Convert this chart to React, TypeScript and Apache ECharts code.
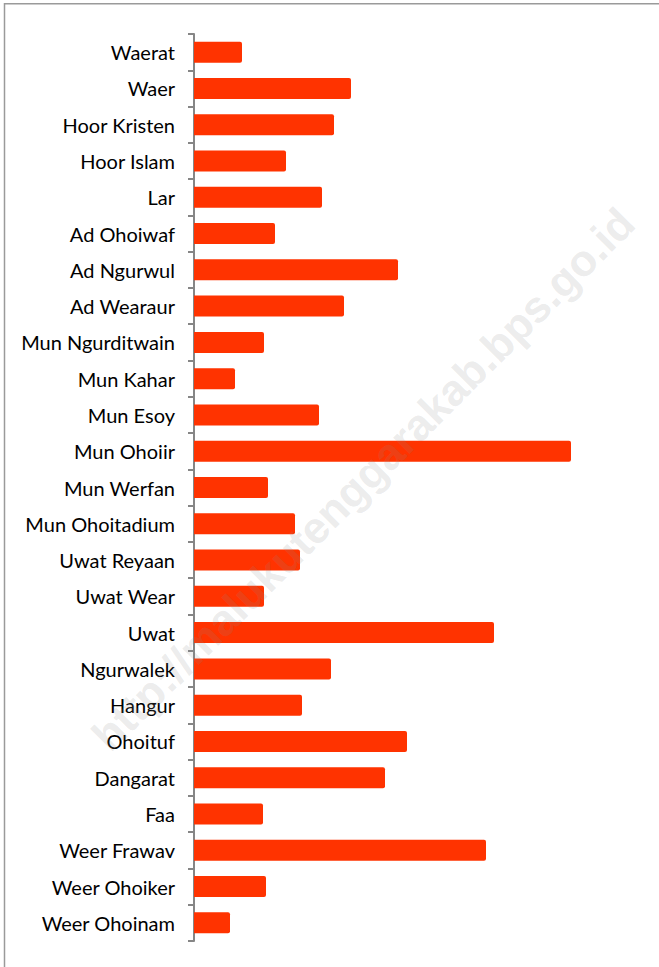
import React, { useEffect, useRef } from "react";
import * as echarts from "echarts";

const categories = [
  "Waerat", "Waer", "Hoor Kristen", "Hoor Islam", "Lar", "Ad Ohoiwaf", "Ad Ngurwul",
  "Ad Wearaur", "Mun Ngurditwain", "Mun Kahar", "Mun Esoy", "Mun Ohoiir", "Mun Werfan",
  "Mun Ohoitadium", "Uwat Reyaan", "Uwat Wear", "Uwat", "Ngurwalek", "Hangur", "Ohoituf",
  "Dangarat", "Faa", "Weer Frawav", "Weer Ohoiker", "Weer Ohoinam",
];

const values = [
  48, 157, 140, 92, 128, 81, 204, 150, 70, 41, 125, 377, 74, 101, 106, 70, 300, 137, 108,
  213, 191, 69, 292, 72, 36,
];

const watermark = "http://malukutenggarakab.bps.go.id";

export default function App() {
  const ref = useRef<HTMLDivElement>(null);
  useEffect(() => {
    if (!ref.current) return;
    const chart = echarts.init(ref.current, null, { renderer: "svg" });
    chart.setOption({
      animation: false,
      backgroundColor: "#ffffff",
      grid: { left: 194, top: 34, width: 446, height: 907, containLabel: false },
      xAxis: {
        type: "value",
        min: 0,
        max: 446,
        show: false,
      },
      yAxis: {
        type: "category",
        data: categories,
        inverse: true,
        axisLine: { show: true, lineStyle: { color: "#868686", width: 2 } },
        axisTick: { show: true, length: 6, lineStyle: { color: "#868686", width: 2 } },
        axisLabel: {
          margin: 19,
          color: "#000000",
          fontFamily: "Lato",
          fontSize: 20,
        },
        splitLine: { show: false },
      },
      series: [
        {
          type: "bar",
          data: values,
          barWidth: 21,
          itemStyle: { color: "#ff3300", borderRadius: [0, 2, 2, 0] },
          z: 2,
        },
      ],
      graphic: [
        {
          type: "rect",
          shape: { x: 4.5, y: 3.75, width: 800, height: 1100 },
          style: { fill: "none", stroke: "#9a9a9a", lineWidth: 1.5 },
          silent: true,
          z: 0,
        },
        {
          type: "text",
          x: 363,
          y: 479,
          rotation: Math.PI / 4,
          style: {
            text: watermark,
            fill: "rgba(140,140,140,0.18)",
            font: "bold 44px 'Liberation Sans'",
            textAlign: "center",
            textVerticalAlign: "middle",
          },
          silent: true,
          z: 100,
        },
      ],
    });
    return () => chart.dispose();
  }, []);
  return (
    <div
      ref={ref}
      style={{ position: "absolute", left: 0, top: 0, width: 659, height: 967 }}
    />
  );
}
